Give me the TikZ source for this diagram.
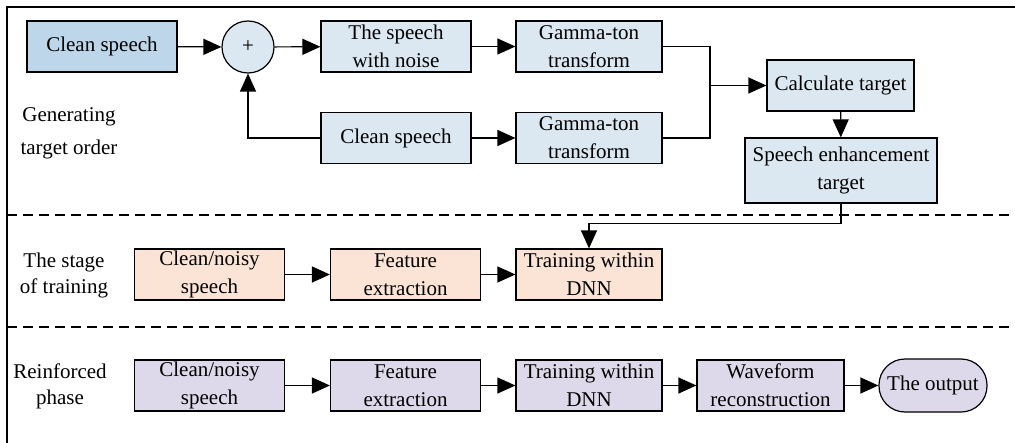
\documentclass[tikz,border=0pt]{standalone}
\usepackage{fontspec}
\setmainfont{Liberation Serif}
\usetikzlibrary{arrows.meta}
\definecolor{blueA}{RGB}{189,214,234}
\definecolor{blueB}{RGB}{219,232,241}
\definecolor{peach}{RGB}{251,228,213}
\definecolor{lilac}{RGB}{222,217,234}
\tikzset{
  blk/.style={draw, line width=0.6pt, align=center, inner sep=1pt,
    minimum height=25.5pt, minimum width=75pt,
    font=\fontsize{10.5}{14}\selectfont},
  lbl/.style={align=center, font=\fontsize{10.5}{13}\selectfont},
  arr/.style={line width=0.6pt, -{Triangle[length=9pt,width=8pt]}},
  ln/.style={line width=0.6pt},
  sep/.style={line width=0.6pt, dash pattern=on 5pt off 3pt}
}
\begin{document}
\begin{tikzpicture}[x=0.5pt, y=-0.5pt]
  \useasboundingbox (0,0) rectangle (1015,443);
  \draw[ln] (1015,7) -- (7,7) -- (7,443);
  \draw[sep] (7,215) -- (1015,215);
  \draw[sep] (7,327) -- (1015,327);

  \node[lbl, font=\fontsize{10.5}{16.5}\selectfont] (gen) at (69,133) {Generating\\target order};
  \node[lbl] (stage) at (64,275) {The stage\\of training};
  \node[lbl] (reinf) at (60,386) {Reinforced\\phase};

  \node[blk, fill=blueA] (cs1) at (102,46.5) {Clean speech};
  \node[draw, line width=0.6pt, circle, fill=blueB, minimum size=26pt, inner sep=0pt, font=\fontsize{10.5}{14}\selectfont] (plus) at (248,47) {+};
  \node[blk, fill=blueB] (noisy) at (396,46.5) {The speech\\with noise};
  \node[blk, fill=blueB, minimum width=73pt] (gt1) at (589,46.5) {Gamma-ton\\transform};
  \node[blk, fill=blueB] (cs2) at (396,138) {Clean speech};
  \node[blk, fill=blueB, minimum width=73pt] (gt2) at (589,138) {Gamma-ton\\transform};
  \node[blk, fill=blueB, minimum width=73.5pt] (calc) at (840.5,85.5) {Calculate target};
  \node[blk, fill=blueB, minimum width=96pt, minimum height=32.5pt] (set) at (841,170.5) {Speech enhancement\\target};
  \coordinate (jn) at (710,85.5);

  \node[blk, fill=peach] (cn2) at (209.5,274.5) {Clean/noisy\\speech};
  \node[blk, fill=peach] (fe2) at (405.5,274.5) {Feature\\extraction};
  \node[blk, fill=peach, minimum width=73pt] (dnn2) at (589,274.5) {Training within\\DNN};

  \node[blk, fill=lilac] (cn3) at (209.5,385.5) {Clean/noisy\\speech};
  \node[blk, fill=lilac] (fe3) at (405.5,385.5) {Feature\\extraction};
  \node[blk, fill=lilac, minimum width=73pt] (dnn3) at (589,385.5) {Training within\\DNN};
  \node[blk, fill=lilac, minimum width=73.5pt] (wr) at (770.5,385.5) {Waveform\\reconstruction};
  \node[blk, fill=lilac, minimum width=54pt, minimum height=26.5pt, rounded corners=13pt] (out) at (933,385.5) {The output};

  \draw[arr] (cs1) -- (plus);
  \draw[arr] (plus) -- (noisy);
  \draw[arr] (noisy) -- (gt1);
  \draw[arr] (cs2.west) -| (plus.south);
  \draw[arr] (cs2) -- (gt2);
  \draw[ln] (gt1.east) -| (jn);
  \draw[ln] (gt2.east) -| (jn);
  \draw[arr] (jn) -- (calc.west);
  \draw[arr] (calc) -- (set);
  \draw[arr] (set.south) -- ++(0,20) -| (dnn2.north);

  \draw[arr] (cn2) -- (fe2);
  \draw[arr] (fe2) -- (dnn2);

  \draw[arr] (cn3) -- (fe3);
  \draw[arr] (fe3) -- (dnn3);
  \draw[arr] (dnn3) -- (wr);
  \draw[arr] (wr) -- (out);
\end{tikzpicture}
\end{document}
